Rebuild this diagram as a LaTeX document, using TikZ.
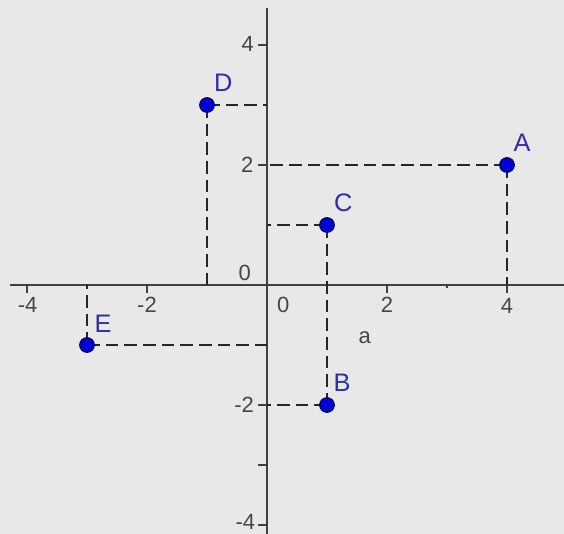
\documentclass[tikz,border=0pt]{standalone}
\usepackage{fontspec}
\setmainfont{Liberation Sans}
\definecolor{bg}{RGB}{232,232,232}
\definecolor{axiscol}{RGB}{64,64,64}
\definecolor{tickcol}{RGB}{70,70,70}
\definecolor{ptfill}{RGB}{0,0,210}
\definecolor{ptdraw}{RGB}{0,0,90}
\definecolor{lblcol}{RGB}{45,45,175}
\tikzset{
  axisline/.style={axiscol, line width=1.5pt},
  tickline/.style={axiscol, line width=1.5pt},
  guide/.style={black!85, line width=1.6pt, dash pattern=on 9.5pt off 4.5pt},
  pt/.style={circle, fill=ptfill, draw=ptdraw, line width=0.8pt, minimum size=11pt, inner sep=0pt},
  ticklbl/.style={text=tickcol, font=\fontsize{16.5}{18}\selectfont, inner sep=0pt, anchor=center},
  ptlbl/.style={text=lblcol, font=\fontsize{19}{21}\selectfont, inner sep=0pt, anchor=center}
}
\begin{document}
\begin{tikzpicture}[x=45pt,y=45pt]
\fill[bg] (-4.45,-4.15) rectangle (4.95,4.75);
\useasboundingbox (-4.45,-4.15) rectangle (4.95,4.75);
% axes
\coordinate (xl) at (-4.28,0);
\coordinate (xr) at (4.95,0);
\coordinate (yt) at (0,4.62);
\coordinate (yb) at (0,-4.15);
\draw[axisline] (xl) -- (xr);
\draw[axisline] (yb) -- (yt);
% ticks
\foreach \v in {-4,-2,2,4}{
  \draw[tickline] (\v,0) -- (\v,-0.13);
  \draw[tickline] (0,\v) -- (-0.15,\v);
}
\foreach \v in {-3}{
  \draw[tickline] (0,\v) -- (-0.15,\v);
}
\draw[tickline] (3,0) -- (3,-0.05);
% points as coordinates
\coordinate (pA) at (4,2);
\coordinate (pB) at (1,-2);
\coordinate (pC) at (1,1);
\coordinate (pD) at (-1,3);
\coordinate (pE) at (-3,-1);
% axis feet
\coordinate (xA) at (4,0);   \coordinate (yA) at (0,2);
\coordinate (yB) at (0,-2);
\coordinate (yC) at (0,1);
\coordinate (xD) at (-1,0);  \coordinate (yD) at (0,3);
\coordinate (xE) at (-3,0);  \coordinate (yE) at (0,-1);
% guide lines
\draw[guide] (pA) -- (yA);
\draw[guide] (pA) -- (xA);
\draw[guide] (pC) -- (yC);
\draw[guide] (pC) -- (pB);
\draw[guide] (pB) -- (yB);
\draw[guide] (pD) -- (yD);
\draw[guide] (pD) -- (xD);
\draw[guide] (pE) -- (yE);
\draw[guide] (pE) -- (xE);
% point nodes
\node[pt] (A) at (pA) {};
\node[pt] (B) at (pB) {};
\node[pt] (C) at (pC) {};
\node[pt] (D) at (pD) {};
\node[pt] (E) at (pE) {};
% point labels
\node[ptlbl] (lA) at (4.25,2.37) {A};
\node[ptlbl] (lB) at (1.25,-1.63) {B};
\node[ptlbl] (lC) at (1.27,1.37) {C};
\node[ptlbl] (lD) at (-0.73,3.37) {D};
\node[ptlbl] (lE) at (-2.73,-0.65) {E};
% tick labels
\node[ticklbl] (tx1) at (-3.99,-0.33) {-4};
\node[ticklbl] (tx2) at (-2,-0.33) {-2};
\node[ticklbl] (tx3) at (0.27,-0.33) {0};
\node[ticklbl] (tx4) at (2,-0.33) {2};
\node[ticklbl] (tx5) at (4,-0.35) {4};
\node[ticklbl] (ty1) at (-0.32,4.02) {4};
\node[ticklbl] (ty2) at (-0.33,2) {2};
\node[ticklbl] (ty3) at (-0.37,0.2) {0};
\node[ticklbl] (ty4) at (-0.38,-2) {-2};
\node[ticklbl] (ty5) at (-0.36,-3.95) {-4};
\node[ticklbl] (la) at (1.63,-0.87) {a};
\end{tikzpicture}
\end{document}
